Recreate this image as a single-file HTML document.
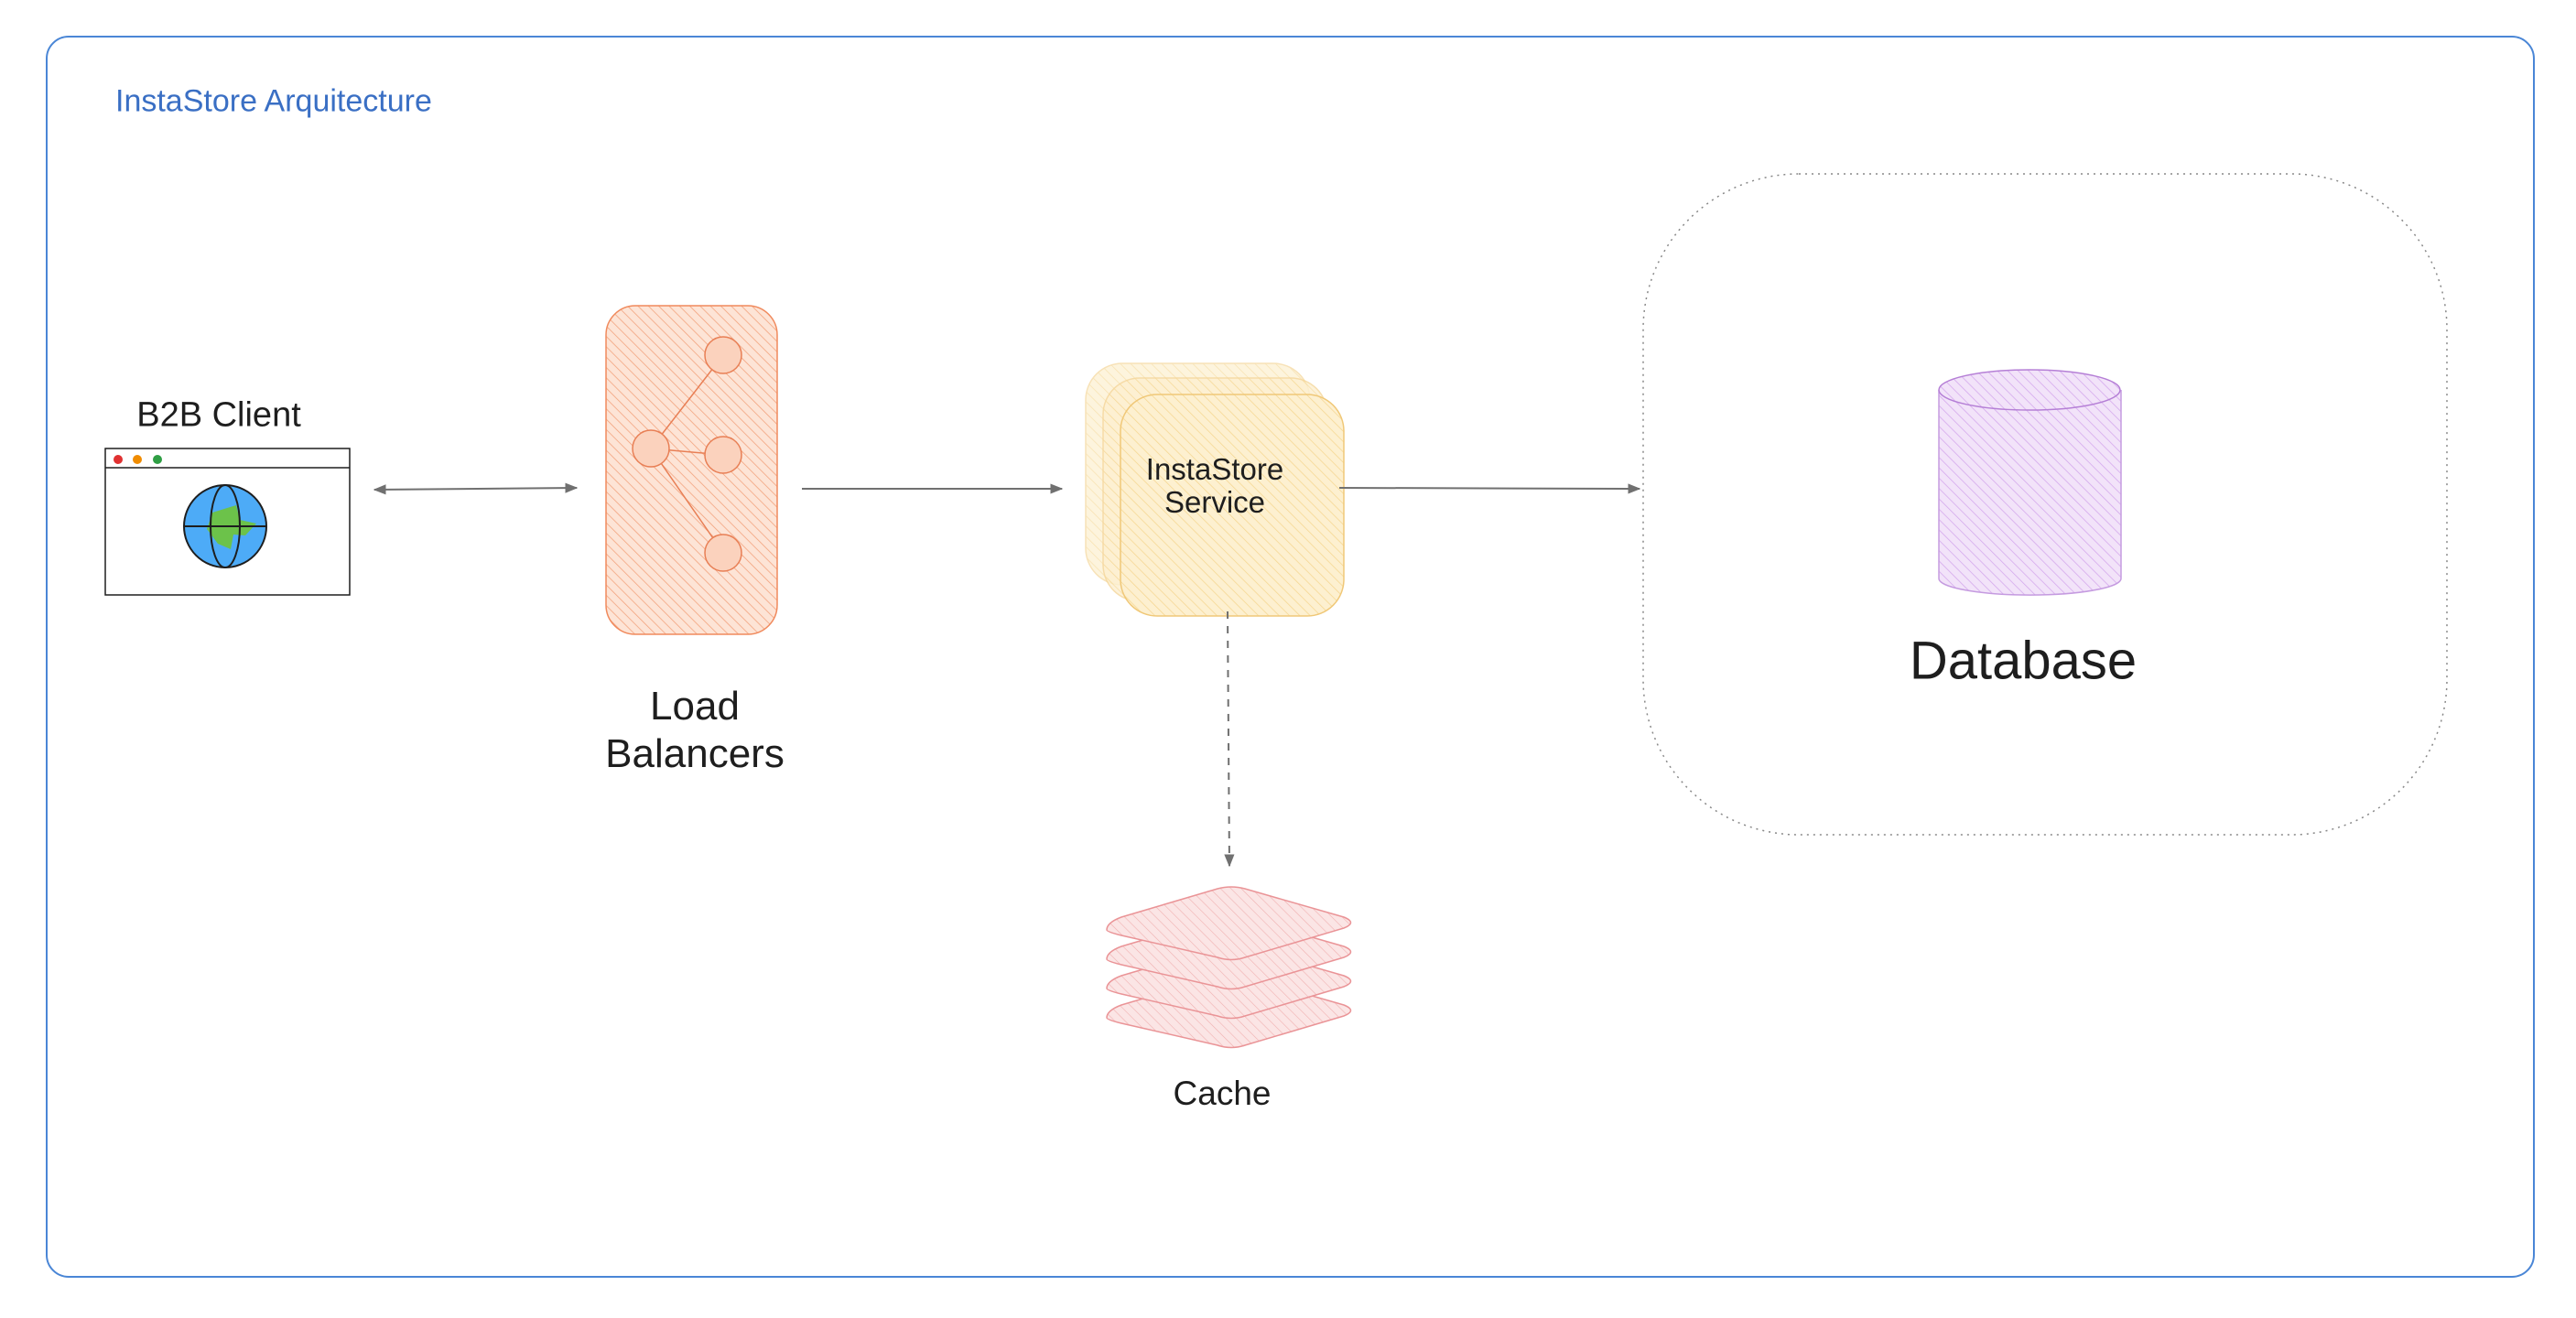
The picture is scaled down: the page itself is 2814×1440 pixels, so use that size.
<!DOCTYPE html>
<html><head><meta charset="utf-8"><style>
html,body{margin:0;padding:0;background:#fff;}
body{width:2814px;height:1440px;overflow:hidden;position:relative;font-family:"Liberation Sans",sans-serif;}
.t{position:absolute;white-space:nowrap;transform:translate(-50%,-50%);color:#1e1e1e;}
</style></head><body>
<svg width="2814" height="1440" style="position:absolute;left:0;top:0">
<defs>
<pattern id="ho" width="8" height="8" patternUnits="userSpaceOnUse" patternTransform="rotate(-45)"><rect width="8" height="8" fill="#fde4d6"/><line x1="0" y1="0" x2="0" y2="8" stroke="#f2a07a" stroke-width="1.5"/></pattern>
<pattern id="hy" width="8" height="8" patternUnits="userSpaceOnUse" patternTransform="rotate(-45)"><rect width="8" height="8" fill="#fdf0d0"/><line x1="0" y1="0" x2="0" y2="8" stroke="#f5d690" stroke-width="1.5"/></pattern>
<pattern id="hr" width="8" height="8" patternUnits="userSpaceOnUse" patternTransform="rotate(-45)"><rect width="8" height="8" fill="#fbe3e3"/><line x1="0" y1="0" x2="0" y2="8" stroke="#f0a8a8" stroke-width="1.2"/></pattern>
<pattern id="hp" width="8" height="8" patternUnits="userSpaceOnUse" patternTransform="rotate(-45)"><rect width="8" height="8" fill="#f2e3f9"/><line x1="0" y1="0" x2="0" y2="8" stroke="#d3a6ec" stroke-width="1.5"/></pattern>
<marker id="ar" viewBox="0 0 10 10" refX="9" refY="5" markerWidth="7" markerHeight="7" orient="auto-start-reverse"><path d="M0,1 L10,5 L0,9 z" fill="#707070"/></marker>
</defs>
<rect x="51" y="40" width="2717" height="1355" rx="24" fill="none" stroke="#4a86d6" stroke-width="2"/>
<rect x="115" y="490" width="267" height="160" fill="#fff" stroke="#1e1e1e" stroke-width="1.5"/>
<line x1="115" y1="511" x2="382" y2="511" stroke="#1e1e1e" stroke-width="1.5"/>
<circle cx="129" cy="502" r="5" fill="#e03131"/><circle cx="150" cy="502" r="5" fill="#f08c00"/><circle cx="172" cy="502" r="5" fill="#2f9e44"/>
<circle cx="246" cy="575" r="45" fill="#4dabf7" stroke="#1e1e1e" stroke-width="2"/>
<path d="M232,560 L258,552 L262,568 L280,572 L268,585 L255,584 L252,600 L238,594 L226,578 Z" fill="#6cc24a"/>
<ellipse cx="246" cy="575" rx="16" ry="45" fill="none" stroke="#1e1e1e" stroke-width="2"/>
<line x1="201" y1="575" x2="291" y2="575" stroke="#1e1e1e" stroke-width="2"/>
<line x1="409" y1="535" x2="630" y2="533" stroke="#707070" stroke-width="2" marker-start="url(#ar)" marker-end="url(#ar)"/>
<rect x="662" y="334" width="187" height="359" rx="32" fill="url(#ho)" stroke="#f08a5d" stroke-width="1.5"/>
<g stroke="#e87f55" stroke-width="1.5" fill="#fbd2bd">
<line x1="711" y1="490" x2="790" y2="388"/><line x1="711" y1="490" x2="790" y2="497"/><line x1="711" y1="490" x2="790" y2="604"/>
<circle cx="790" cy="388" r="20"/><circle cx="711" cy="490" r="20"/><circle cx="790" cy="497" r="20"/><circle cx="790" cy="604" r="20"/>
</g>
<line x1="876" y1="534" x2="1160" y2="534" stroke="#707070" stroke-width="2" marker-end="url(#ar)"/>
<rect x="1186" y="397" width="245" height="242" rx="40" fill="url(#hy)" stroke="#f5d69a" stroke-width="1.5" opacity="0.7"/>
<rect x="1205" y="413" width="245" height="244" rx="40" fill="url(#hy)" stroke="#f5d69a" stroke-width="1.5" opacity="0.8"/>
<rect x="1224" y="431" width="244" height="242" rx="40" fill="url(#hy)" stroke="#f0c878" stroke-width="1.5"/>
<line x1="1463" y1="533" x2="1791" y2="534" stroke="#707070" stroke-width="2" marker-end="url(#ar)"/>
<line x1="1341" y1="668" x2="1343" y2="946" stroke="#707070" stroke-width="2" stroke-dasharray="8,8" marker-end="url(#ar)"/>
<g fill="url(#hr)" stroke="#e8898c" stroke-width="1.5" opacity="0.9">
<path d="M1209,1112 Q1209,1104 1225,1098 L1330,1067 Q1345,1063 1360,1067 L1468,1098 Q1483,1104 1468,1110 L1360,1142 Q1345,1147 1330,1142 L1225,1118 Q1209,1114 1209,1112Z"/>
<path d="M1209,1080 Q1209,1072 1225,1066 L1330,1035 Q1345,1031 1360,1035 L1468,1066 Q1483,1072 1468,1078 L1360,1110 Q1345,1115 1330,1110 L1225,1086 Q1209,1082 1209,1080Z"/>
<path d="M1209,1048 Q1209,1040 1225,1034 L1330,1003 Q1345,999 1360,1003 L1468,1034 Q1483,1040 1468,1046 L1360,1078 Q1345,1083 1330,1078 L1225,1054 Q1209,1050 1209,1048Z"/>
<path d="M1209,1016 Q1209,1008 1225,1002 L1330,971 Q1345,967 1360,971 L1468,1002 Q1483,1008 1468,1014 L1360,1046 Q1345,1051 1330,1046 L1225,1022 Q1209,1018 1209,1016Z"/>
</g>
<rect x="1795" y="190" width="878" height="722" rx="170" fill="none" stroke="#888" stroke-width="1.5" stroke-dasharray="2,5"/>
<path d="M2118,426 L2118,632 A99,18 0 0 0 2317,632 L2317,426" fill="url(#hp)" stroke="#c59be0" stroke-width="1.5"/>
<ellipse cx="2217" cy="426" rx="99" ry="22" fill="url(#hp)" stroke="#b57fd6" stroke-width="1.5"/>
</svg>
<div class="t" style="top:111px;font-size:34px;color:#3a6fc4;transform:translateY(-50%);left:126px">InstaStore Arquitecture</div>
<div class="t" style="left:239px;top:454px;font-size:38px">B2B Client</div>
<div class="t" style="left:759px;top:772px;font-size:44px">Load</div>
<div class="t" style="left:759px;top:824px;font-size:44px">Balancers</div>
<div class="t" style="left:1327px;top:513px;font-size:33px">InstaStore</div>
<div class="t" style="left:1327px;top:549px;font-size:33px">Service</div>
<div class="t" style="left:1335px;top:1195px;font-size:37px">Cache</div>
<div class="t" style="left:2210px;top:722px;font-size:58px">Database</div>
</body></html>
